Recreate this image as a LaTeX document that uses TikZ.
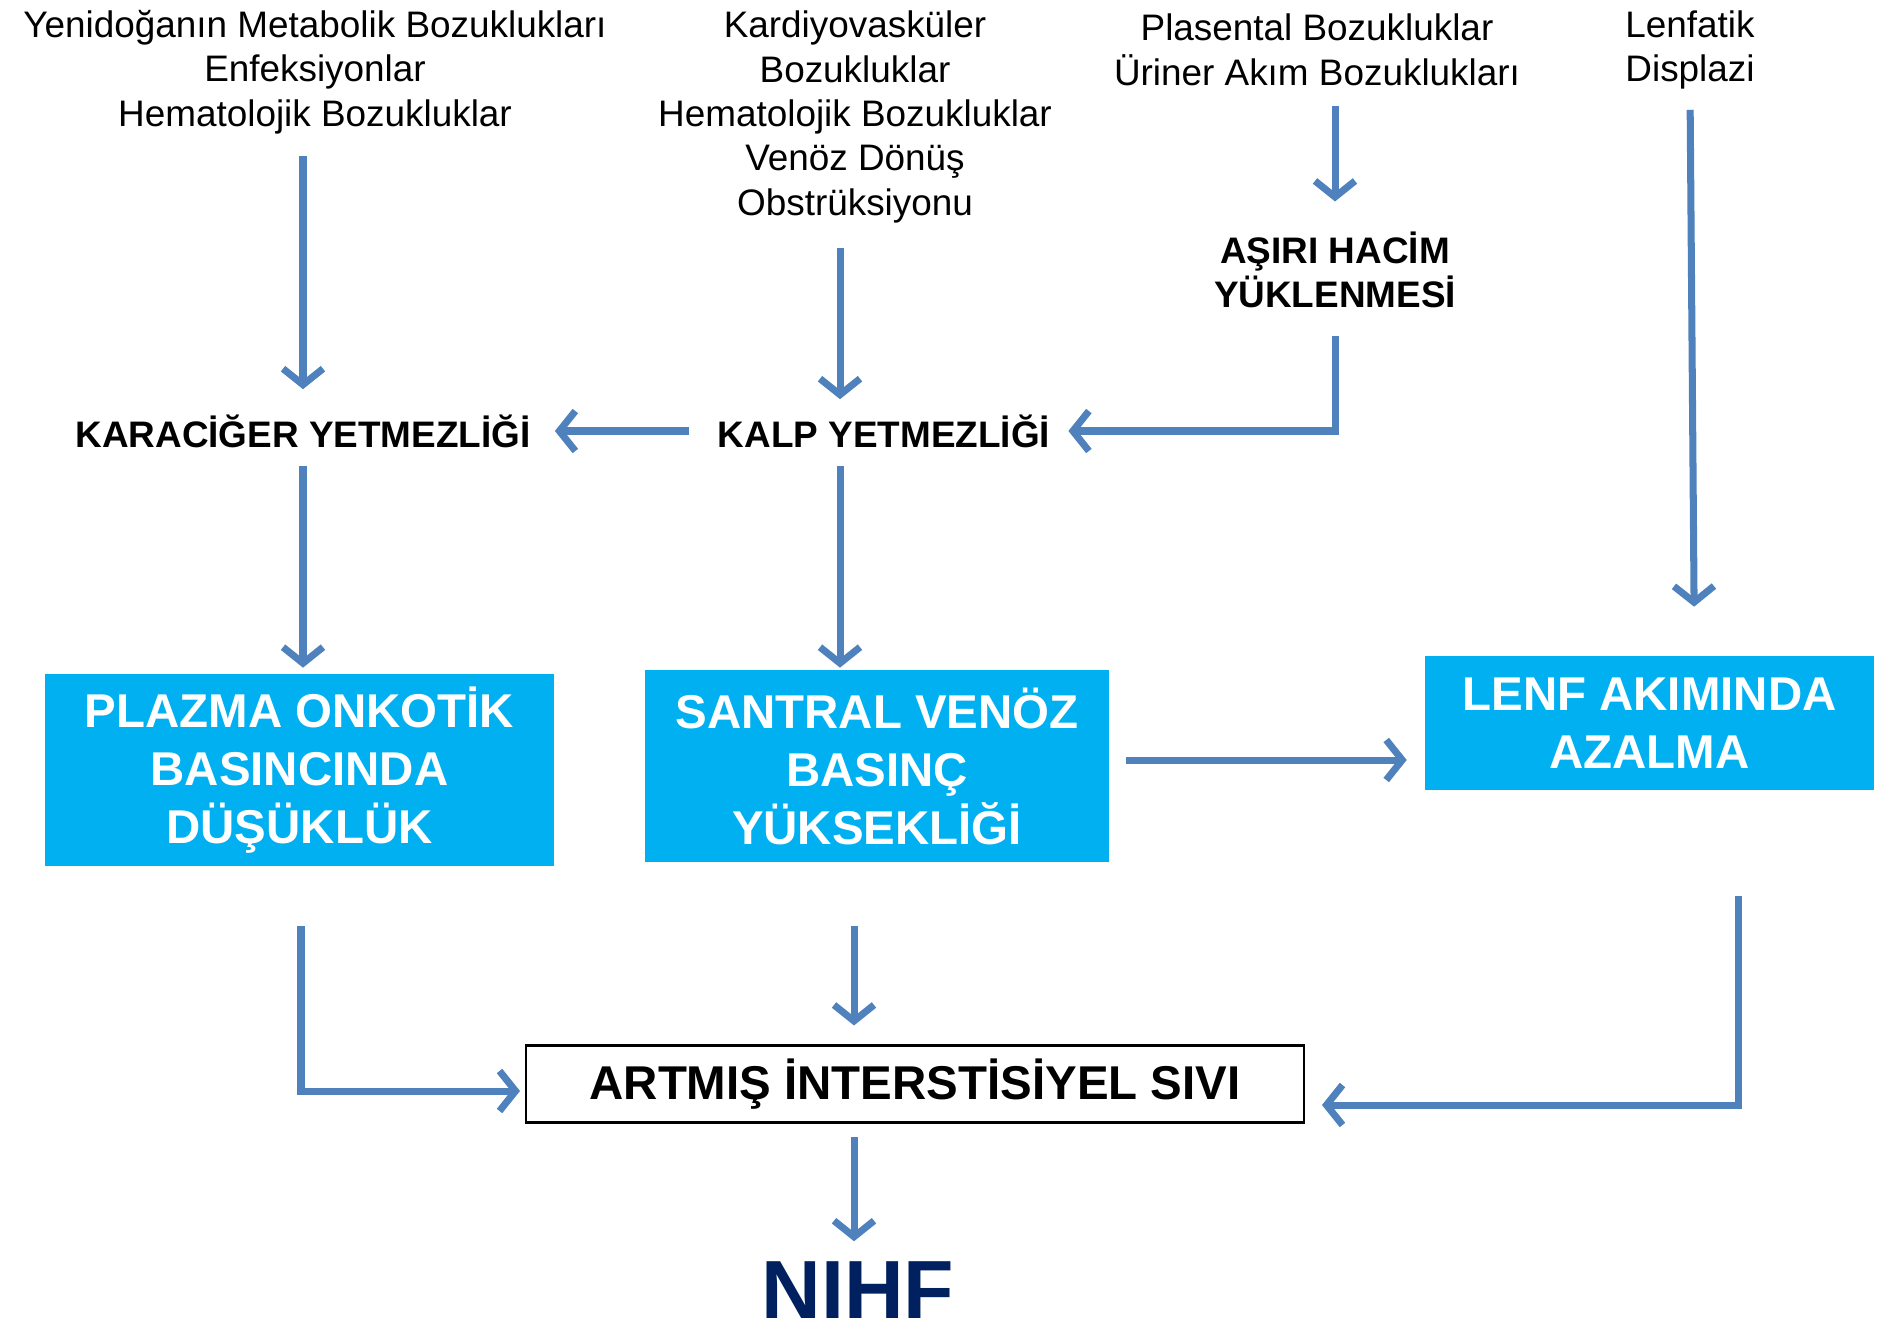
\documentclass[tikz,border=0pt]{standalone}
\usepackage{fontspec}
\setmainfont{Liberation Sans}
\usetikzlibrary{arrows.meta}
\definecolor{arrblue}{HTML}{4F81BD}
\definecolor{boxcyan}{HTML}{00B0F0}
\definecolor{navy}{HTML}{002060}
\begin{document}
\begin{tikzpicture}[x=0.02cm,y=-0.02cm,
cause node/.style={text=black,align=center,inner sep=0pt,font=\fontsize{21}{25.3}\selectfont},
fail node/.style={text=black,align=center,inner sep=0pt,font=\fontsize{21}{25.3}\selectfont\bfseries},
main node/.style={fill=boxcyan,text=white,align=center,inner sep=0pt,font=\fontsize{27}{33}\selectfont\bfseries},
arr/.style={draw=arrblue,line width=4pt,-{Straight Barb[length=3.2mm,width=8mm]}}]

\useasboundingbox (0,0) rectangle (1886,1336);

\node[cause node] (yeni) at (315,72) {Yenidoğanın Metabolik Bozuklukları\\Enfeksiyonlar\\Hematolojik Bozukluklar};
\node[cause node] (kardiyo) at (855,117) {Kardiyovasküler\\Bozukluklar\\Hematolojik Bozukluklar\\Venöz Dönüş\\Obstrüksiyonu};
\node[cause node] (plasenta) at (1317,50) {Plasental Bozukluklar\\Üriner Akım Bozuklukları};
\node[cause node] (lenfatik) at (1690,50) {Lenfatik\\Displazi};

\node[fail node] (asiri) at (1335,270) {AŞIRI HACİM\\YÜKLENMESİ};
\node[fail node] (karaciger) at (303,431) {KARACİĞER YETMEZLİĞİ};
\node[fail node] (kalp) at (884,431) {KALP YETMEZLİĞİ};

\node[main node,minimum width=10.18cm,minimum height=3.84cm] (plazma) at (299.5,770) {PLAZMA ONKOTİK\\BASINCINDA\\DÜŞÜKLÜK};
\node[main node,minimum width=9.28cm,minimum height=3.84cm] (santral) at (877,766) {SANTRAL VENÖZ\\BASINÇ\\YÜKSEKLİĞİ};
\node[main node,minimum width=8.98cm,minimum height=2.68cm] (lenf) at (1649.5,723) {LENF AKIMINDA\\AZALMA};

\node[draw=black,line width=1.2pt,text=black,minimum width=15.56cm,minimum height=1.54cm,inner sep=0pt,font=\fontsize{27}{33}\selectfont\bfseries] (artmis) at (915,1084) {ARTMIŞ İNTERSTİSİYEL SIVI};
\node[text=navy,inner sep=0pt,font=\fontsize{47}{50}\selectfont\bfseries] (nihf) at (858,1290) {NIHF};

% causes
\draw[arr,shorten <=0.44cm,shorten >=0.5cm] (karaciger |- yeni.south) -- (karaciger.north);
\draw[arr,shorten <=0.5cm,shorten >=0.3cm] ([xshift=-0.88cm]kalp.north |- kardiyo.south) -- ([xshift=-0.88cm]kalp.north);
\draw[arr,shorten <=0.4cm,shorten >=0.6cm] (asiri |- plasenta.south) -- (asiri.north);
\draw[arr,shorten <=0.4cm,shorten >=0.98cm] (lenfatik.south) -- ([xshift=0.9cm]lenf.north);

% failures
\draw[arr,shorten <=0.58cm,shorten >=0.48cm] (kalp.west) -- (karaciger.east);
\draw[arr,shorten <=0.54cm,shorten >=0.36cm] (asiri.south) |- (kalp.east);
\draw[arr,shorten <=0.36cm,shorten >=0.12cm] (karaciger.south) -- (karaciger |- plazma.north);
\draw[arr,shorten <=0.36cm,shorten >=0.04cm] ([xshift=-0.88cm]kalp.south) -- ([xshift=-0.88cm]kalp.south |- santral.north);

% boxes
\draw[arr,shorten <=0.34cm,shorten >=0.36cm] ([yshift=0.12cm]santral.east) -- ([yshift=0.12cm]santral.east -| lenf.west);
\draw[arr,shorten <=1.2cm,shorten >=0.1cm] ([xshift=0.03cm]plazma.south) |- ([yshift=-0.14cm]artmis.west);
\draw[arr,shorten <=1.28cm,shorten >=0.38cm] ([xshift=-0.46cm]santral.south) -- ([xshift=-0.46cm]santral.south |- artmis.north);
\draw[arr,shorten <=2.12cm,shorten >=0.34cm] ([xshift=1.78cm]lenf.south) |- ([yshift=-0.42cm]artmis.east);
\draw[arr,shorten <=0.26cm,shorten >=0.4cm] ([xshift=-1.22cm]artmis.south) -- ([xshift=-1.22cm]artmis.south |- nihf.north);
\end{tikzpicture}
\end{document}
